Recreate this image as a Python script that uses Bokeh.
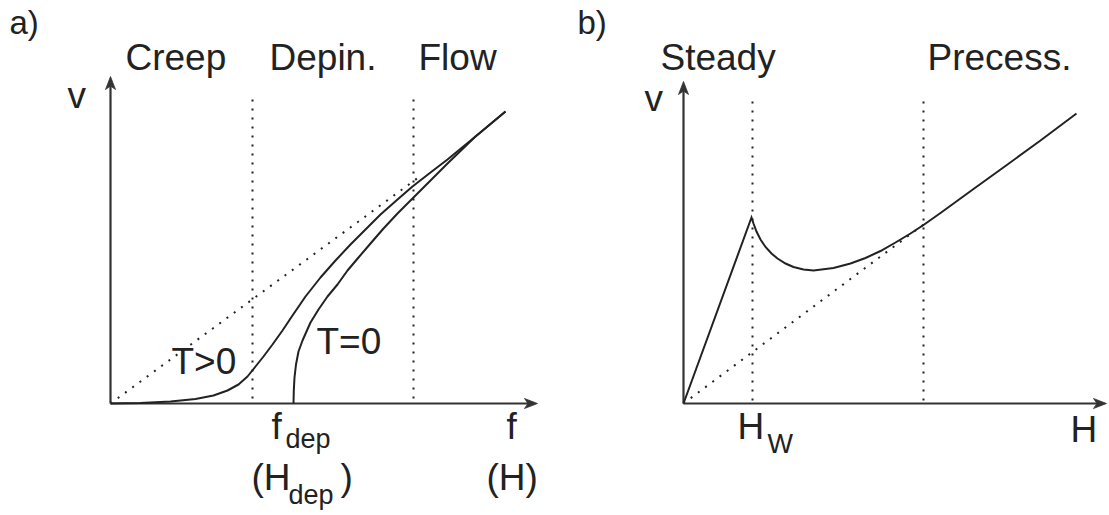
from bokeh.plotting import figure
from bokeh.layouts import row
from bokeh.models import Range1d, ColumnDataSource
from bokeh.core.properties import value
from bokeh.embed import file_html
from bokeh.resources import INLINE

# ---------------- data: panel a (v versus f) ----------------
a_tpos_f = [0.00, 0.30, 0.60, 0.85, 1.03, 1.17, 1.28, 1.37, 1.45, 1.53, 1.62, 1.72,
            1.82, 1.95, 2.10, 2.25, 2.40, 2.55, 2.70, 2.87, 3.02, 3.20, 3.37, 3.65, 3.95]
a_tpos_v = [0.00, 0.005, 0.02, 0.045, 0.08, 0.13, 0.19, 0.27, 0.37, 0.47, 0.59, 0.73,
            0.88, 1.07, 1.26, 1.43, 1.59, 1.74, 1.89, 2.04, 2.17, 2.31, 2.44, 2.67, 2.92]
a_tzero_f = [1.83, 1.833, 1.84, 1.855, 1.88, 1.92, 2.00, 2.08, 2.17, 2.27, 2.37, 2.48,
             2.60, 2.73, 2.87, 3.03, 3.20, 3.37, 3.65, 3.95]
a_tzero_v = [0.00, 0.13, 0.26, 0.39, 0.52, 0.63, 0.81, 0.94, 1.07, 1.19, 1.33, 1.46,
             1.60, 1.75, 1.90, 2.06, 2.23, 2.40, 2.67, 2.92]
a_linear_f = [0.0, 3.12]
a_linear_v = [0.0, 2.29]
a_regime_f = [1.42, 3.03]          # f_dep and start of flow
a_regime_names = ["Creep", "Depin.", "Flow"]
a_axis_f_end = 4.27
a_axis_v_end = 3.27

# ---------------- data: panel b (v versus H) ----------------
b_curve_h = [0.00, 0.68, 0.70, 0.73, 0.77, 0.82, 0.88, 0.94, 1.02, 1.10, 1.20, 1.30,
             1.50, 1.67, 1.82, 1.97, 2.12, 2.27, 2.40, 2.57, 2.90, 3.24, 3.57, 3.93]
b_curve_v = [0.00, 1.86, 1.80, 1.72, 1.64, 1.565, 1.50, 1.45, 1.40, 1.365, 1.34, 1.33,
             1.355, 1.40, 1.455, 1.525, 1.61, 1.70, 1.785, 1.905, 2.145, 2.39, 2.63, 2.90]
b_linear_h = [0.0, 2.40]
b_linear_v = [0.0, 1.79]
b_regime_h = [0.69, 2.40]          # H_W and start of precession
b_regime_names = ["Steady", "Precess."]
b_axis_h_end = 4.23
b_axis_v_end = 3.22

FONT = value("Liberation Sans")
INK = "#222222"
AXC = "#333333"


def make_fig(xr, yr, w):
    p = figure(width=w, height=515, x_range=Range1d(*xr), y_range=Range1d(*yr),
               output_backend="svg", toolbar_location=None,
               x_axis_location=None, y_axis_location=None, min_border=0)
    p.grid.visible = False
    p.outline_line_color = None
    p.background_fill_color = "white"
    p.border_fill_color = "white"
    return p


def arrow(p, x0, y0, x1, y1):
    dx, dy = x1 - x0, y1 - y0
    n = (dx * dx + dy * dy) ** 0.5
    ux, uy = dx / n, dy / n
    nx, ny = -uy, ux
    L, W, N = 0.13, 0.05, 0.095
    p.line([x0, x1 - 0.08 * ux], [y0, y1 - 0.08 * uy], line_color=AXC, line_width=2.2)
    xs = [x1, x1 - L * ux + W * nx, x1 - N * ux, x1 - L * ux - W * nx]
    ys = [y1, y1 - L * uy + W * ny, y1 - N * uy, y1 - L * uy - W * ny]
    p.patch(xs, ys, fill_color=AXC, line_color=AXC, line_width=0.8)


def labels(p, xs, ys, texts, size):
    src = ColumnDataSource(dict(x=xs, y=ys, t=texts))
    p.text(x="x", y="y", text="t", source=src, text_font=FONT, text_font_size=size,
           text_color=INK, text_align="left", text_baseline="alphabetic")


DOT = dict(line_color="#222222", line_width=2, line_dash="2 7")

# ---------------- panel a ----------------
pa = make_fig((-1.10, 4.50), (-1.12, 4.03), 560)
for f in a_regime_f:
    pa.line([f, f], [0.05, 3.06], **DOT)
pa.line(a_linear_f, a_linear_v, **DOT)
arrow(pa, 0, 0, a_axis_f_end, 0)
arrow(pa, 0, 0, 0, a_axis_v_end)
pa.line(a_tpos_f, a_tpos_v, line_color=INK, line_width=2, line_join="round")
pa.line(a_tzero_f, a_tzero_v, line_color=INK, line_width=2, line_join="round")

labels(pa, [0.15, 1.59, 3.08], [3.46, 3.46, 3.46], a_regime_names, "37px")
labels(pa, [-0.43, 0.61, 2.06, 1.61, 1.41, 2.30, 3.96, 3.76],
       [3.08, 0.42, 0.62, -0.23, -0.74, -0.74, -0.23, -0.74],
       ["v", "T>0", "T=0", "f", "(H", ")", "f", "(H)"], "37px")
labels(pa, [1.75, 1.78], [-0.35, -0.91], ["dep", "dep"], "27px")
labels(pa, [-1.01], [3.81], ["a)"], "33px")

# ---------------- panel b ----------------
pb = make_fig((-1.23, 4.26), (-1.12, 4.03), 549)
for h in b_regime_h:
    pb.line([h, h], [0.03, 3.04], **DOT)
pb.line(b_linear_h, b_linear_v, **DOT)
arrow(pb, 0, 0, b_axis_h_end, 0)
arrow(pb, 0, 0, 0, b_axis_v_end)
pb.line(b_curve_h, b_curve_v, line_color=INK, line_width=2, line_join="miter")

labels(pb, [-0.23, 2.44], [3.46, 3.46], b_regime_names, "37px")
labels(pb, [-0.39, 0.54, 3.87], [3.05, -0.23, -0.26], ["v", "H", "H"], "37px")
labels(pb, [0.84], [-0.40], ["W"], "27px")
labels(pb, [-1.06], [3.81], ["b)"], "33px")

layout = row(pa, pb)
open("out.html", "w").write(file_html(layout, INLINE))
